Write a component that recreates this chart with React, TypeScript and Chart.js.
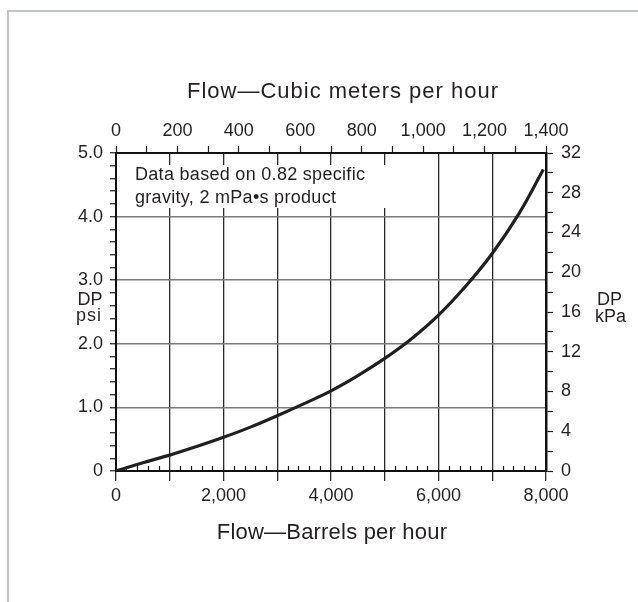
import React, { useEffect, useRef } from 'react';
import { Chart, registerables } from 'chart.js';

Chart.register(...registerables);

// Flow in barrels per hour and pressure drop in psi
const flowBbl = [0, 500, 1000, 1500, 2000, 2500, 3000, 3500, 4000, 4500, 5000, 5500, 6000, 6500, 7000, 7500, 7950];
const dpPsi = [0, 0.13, 0.25, 0.385, 0.53, 0.69, 0.87, 1.06, 1.26, 1.5, 1.77, 2.08, 2.45, 2.9, 3.42, 4.05, 4.74];

const topTitle = 'Flow\u2014Cubic meters per hour';
const bottomTitle = 'Flow\u2014Barrels per hour';
const noteLines = ['Data based on 0.82 specific', 'gravity, 2 mPa\u2022s product'];
const leftUnit = ['DP', 'psi'];
const rightUnit = ['DP', 'kPa'];

const FAMILY = '"Liberation Sans", Arial, Helvetica, sans-serif';
const TXT = '#231f20';
const LINE = '#1a1a1a';

const fmt = (v: number) => String(Math.round(v)).replace(/\B(?=(\d{3})+(?!\d))/g, ',');
const isMult = (v: number, m: number) => Math.abs(v / m - Math.round(v / m)) < 1e-6;

const textPlugin = {
  id: 'texts',
  beforeDatasetsDraw(chart: any) {
    const ctx = chart.ctx;
    const ca = chart.chartArea;
    ctx.save();
    ctx.fillStyle = '#ffffff';
    ctx.fillRect(ca.left + 2, 165, 392 - (ca.left + 2), 43);
    ctx.fillStyle = TXT;
    ctx.font = `18px ${FAMILY}`;
    try { ctx.letterSpacing = '0.3px'; } catch (e) {}
    ctx.textAlign = 'left';
    ctx.textBaseline = 'alphabetic';
    ctx.fillText(noteLines[0], 135, 180);
    ctx.fillText(noteLines[1], 135, 203);
    ctx.restore();
  },
  afterDraw(chart: any) {
    const ctx = chart.ctx;
    ctx.save();
    ctx.fillStyle = TXT;
    ctx.textBaseline = 'alphabetic';
    ctx.font = `22px ${FAMILY}`;
    ctx.textAlign = 'center';
    try { ctx.letterSpacing = '1px'; } catch (e) {}
    ctx.fillText(topTitle, 343, 98);
    try { ctx.letterSpacing = '0.2px'; } catch (e) {}
    ctx.fillText(bottomTitle, 332, 539);
    try { ctx.letterSpacing = '0px'; } catch (e) {}
    ctx.font = `18px ${FAMILY}`;
    ctx.fillText(leftUnit[0], 90, 305);
    try { ctx.letterSpacing = '1px'; } catch (e) {}
    ctx.fillText(leftUnit[1], 89, 321);
    try { ctx.letterSpacing = '0px'; } catch (e) {}
    ctx.textAlign = 'left';
    ctx.fillText(rightUnit[0], 597, 305);
    ctx.fillText(rightUnit[1], 595, 322);
    ctx.restore();
  },
};

export default function App() {
  const ref = useRef<HTMLCanvasElement>(null);

  useEffect(() => {
    const font = { family: FAMILY, size: 18 };
    const chart = new Chart(ref.current as HTMLCanvasElement, {
      type: 'line',
      data: {
        datasets: [
          {
            data: flowBbl.map((x, i) => ({ x, y: dpPsi[i] })),
            borderColor: '#231f20',
            borderWidth: 3.2,
            pointRadius: 0,
            tension: 0.4,
            fill: false,
            xAxisID: 'x',
            yAxisID: 'y',
          },
        ],
      },
      options: {
        responsive: false,
        animation: false,
        events: [],
        layout: { padding: 0 },
        plugins: {
          legend: { display: false },
          tooltip: { enabled: false },
          title: { display: false },
        },
        scales: {
          xMinor: {
            type: 'linear',
            position: 'bottom',
            weight: 0,
            min: 0,
            max: 8000,
            ticks: { stepSize: 200, display: false, autoSkip: false },
            grid: {
              drawOnChartArea: false,
              tickLength: -5,
              tickWidth: 1.2,
              tickColor: (c: any) => (c.tick && isMult(c.tick.value, 1000) ? 'rgba(0,0,0,0)' : LINE),
            },
            border: { display: false },
            afterFit: (s: any) => {
              s.height = 0;
            },
          },
          x: {
            type: 'linear',
            position: 'bottom',
            weight: 1,
            min: 0,
            max: 8000,
            ticks: {
              stepSize: 1000,
              autoSkip: false,
              maxRotation: 0,
              padding: 4,
              color: TXT,
              font,
              callback: (v: any) => (isMult(Number(v), 2000) ? fmt(Number(v)) : ''),
            },
            grid: { color: '#2b2b2b', lineWidth: 1.3, tickLength: 10, tickColor: '#2b2b2b', tickWidth: 1.3 },
            border: { display: true, color: '#111', width: 2 },
            afterFit: (s: any) => {
              s.height = 131;
            },
          },
          x2: {
            type: 'linear',
            position: 'top',
            min: 0,
            max: 1400,
            ticks: {
              stepSize: 100,
              autoSkip: false,
              maxRotation: 0,
              padding: 4,
              color: TXT,
              font,
              callback: (v: any) => (isMult(Number(v), 200) ? fmt(Number(v)) : ''),
            },
            grid: { drawOnChartArea: false, tickLength: 7, tickColor: LINE, tickWidth: 1.2 },
            border: { display: true, color: '#111', width: 2 },
            afterFit: (s: any) => {
              s.height = 153;
            },
          },
          y: {
            type: 'linear',
            position: 'left',
            min: 0,
            max: 5,
            ticks: {
              stepSize: 0.2,
              autoSkip: false,
              padding: 7,
              color: TXT,
              font,
              callback: (v: any) => {
                const n = Number(v);
                if (!isMult(n, 1)) return '';
                return n === 0 ? '0' : n.toFixed(1);
              },
            },
            grid: {
              color: (c: any) => (c.tick && isMult(c.tick.value, 1) ? '#7a7a7a' : 'rgba(0,0,0,0)'),
              lineWidth: 1.5,
              tickLength: 6,
              tickColor: LINE,
              tickWidth: 1.2,
            },
            border: { display: true, color: '#111', width: 2 },
            afterFit: (s: any) => {
              s.width = 116;
            },
          },
          y2: {
            type: 'linear',
            position: 'right',
            min: 0,
            max: 32,
            ticks: {
              stepSize: 2,
              autoSkip: false,
              padding: 8,
              color: TXT,
              font,
              callback: (v: any) => (isMult(Number(v), 4) ? String(Number(v)) : ''),
            },
            grid: { drawOnChartArea: false, tickLength: 7, tickColor: LINE, tickWidth: 1.2 },
            border: { display: true, color: '#111', width: 2.5 },
            afterFit: (s: any) => {
              s.width = 92;
            },
          },
        },
      } as any,
      plugins: [textPlugin],
    });
    return () => chart.destroy();
  }, []);

  return (
    <div style={{ position: 'fixed', left: 0, top: 0, width: 638, height: 602, background: '#fff', overflow: 'hidden' }}>
      <div
        style={{
          position: 'absolute',
          left: 7,
          top: 10,
          right: -10,
          bottom: -10,
          borderLeft: '2px solid #c3c7c3',
          borderTop: '2px solid #c3c7c3',
        }}
      />
      <canvas
        ref={ref}
        width={638}
        height={602}
        style={{ position: 'absolute', left: 0, top: 0, width: 638, height: 602 }}
      />
    </div>
  );
}
